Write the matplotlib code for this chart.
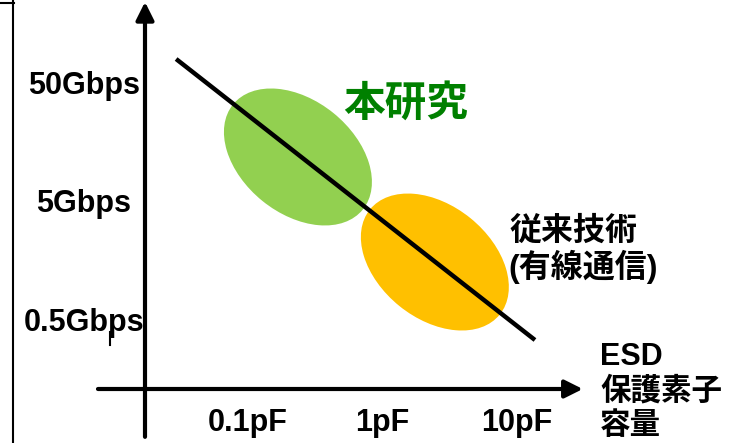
import matplotlib
matplotlib.use('Agg')
import matplotlib.pyplot as plt
from matplotlib.patches import Ellipse
from matplotlib.transforms import ScaledTranslation
from matplotlib.lines import Line2D

plt.rcParams['font.family'] = ['Liberation Sans', 'Noto Sans CJK JP']
plt.rcParams['font.weight'] = 'bold'

# axis ticks
cap_ticks = [0.1, 1, 10]            # pF
cap_labels = ['0.1pF', '1pF', '10pF']
rate_ticks = [0.5, 5, 50]           # Gbps
rate_labels = ['0.5Gbps', '5Gbps', '50Gbps']

# trade-off line (capacitance vs data rate)
trend_cap = [0.0292, 13.6]
trend_rate = [79.8, 0.332]

# regions: this work / conventional
region_cap = [0.235, 2.45]
region_rate = [11.8, 1.52]
region_colors = ['#92D050', '#FFC000']

W, H = 735, 443
fig = plt.figure(figsize=(W / 100, H / 100), dpi=100)
ax = fig.add_axes([145 / W, 54 / H, 590 / W, 389 / H])
ax.set_xscale('log')
ax.set_yscale('log')
for s in ax.spines.values():
    s.set_visible(False)
ax.set_xticks(cap_ticks, cap_labels)
ax.set_yticks(rate_ticks, rate_labels)
ax.minorticks_off()
ax.tick_params(length=0, labelsize=22)
ax.tick_params(axis='x', pad=14)
ax.tick_params(axis='y', pad=44)
for t in ax.get_yticklabels():
    t.set_ha('center')

# ellipses sized in inches, centred on data points
for c, r, col in zip(region_cap, region_rate, region_colors):
    e = Ellipse((0, 0), 1.67, 1.13, angle=-39, facecolor=col, edgecolor='none',
                transform=fig.dpi_scale_trans + ScaledTranslation(c, r, ax.transData))
    ax.add_patch(e)

ax.plot(trend_cap, trend_rate, color='black', lw=3.2, solid_capstyle='butt', zorder=3)

ax.set_xlim(0.01714, 417.8)
ax.set_ylim(0.1276, 252.4)

arrow = dict(arrowstyle='-|>,head_length=0.6,head_width=0.3', lw=3, color='black',
             shrinkA=0, shrinkB=0, mutation_scale=18)
ax.annotate('', xy=(0, 0.995), xytext=(0, -0.123), xycoords='axes fraction',
            arrowprops=arrow, annotation_clip=False)
ax.annotate('', xy=(0.742, 0), xytext=(-0.0797, 0), xycoords='axes fraction',
            arrowprops=arrow, annotation_clip=False)

def px(x, y):
    return x / W, 1 - y / H

fig.text(*px(406, 105), '本研究', color='#008000', fontsize=30, ha='center', va='center')
fig.text(*px(510, 232), '従来技術', fontsize=23, ha='left', va='center')
fig.text(*px(508, 267), '(有線通信)', fontsize=23, ha='left', va='center')
fig.text(*px(600, 357), 'ESD', fontsize=22, ha='left', va='center')
fig.text(*px(600, 392), '保護素子', fontsize=22, ha='left', va='center')
fig.text(*px(600, 426), '容量', fontsize=22, ha='left', va='center')

# slide border remnants
fig.add_artist(Line2D([12.5 / W] * 2, [0, 1], lw=1.5, color='black'))
fig.add_artist(Line2D([0, 14 / W], [1 - 2.5 / H] * 2, lw=1.5, color='black'))
fig.add_artist(Line2D([110 / W] * 2, [1 - 332 / H, 1 - 345 / H], lw=1.5, color='black'))

fig.savefig('out.png', dpi=100)
